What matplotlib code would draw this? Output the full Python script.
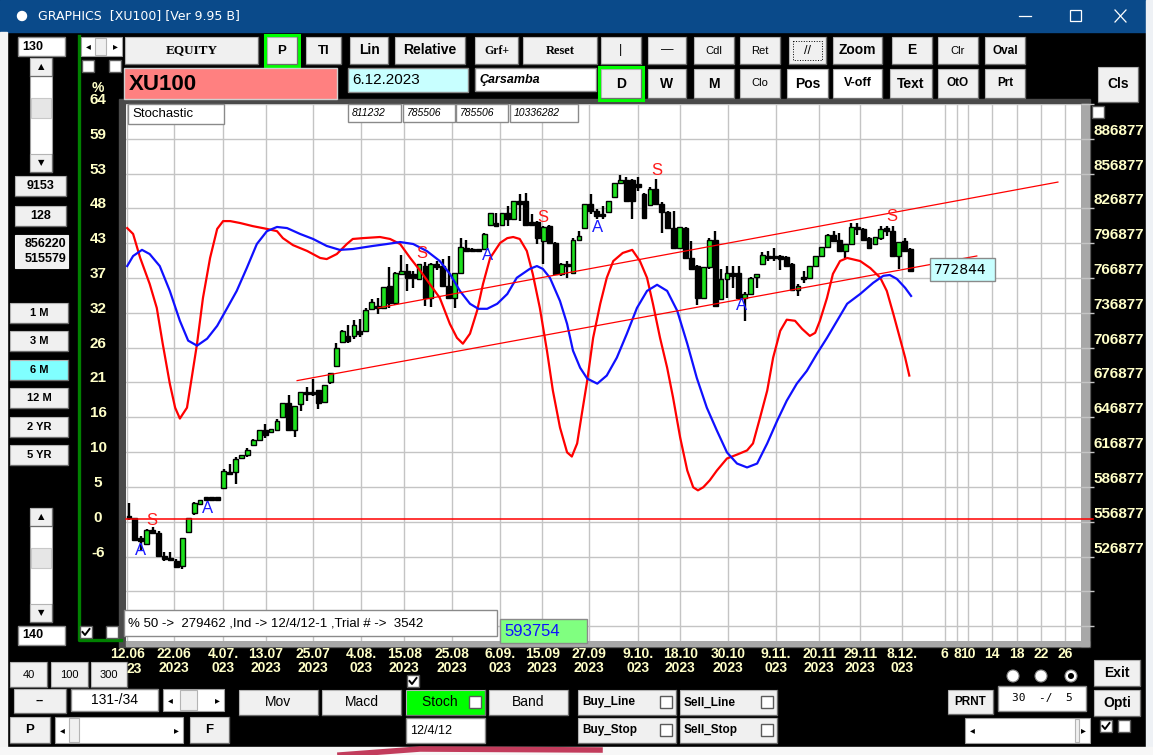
import numpy as np
import matplotlib
matplotlib.use("Agg")
import matplotlib.pyplot as plt
import matplotlib.transforms as mtransforms
from matplotlib.patches import Rectangle, Circle

plt.rcParams['font.family'] = ['Liberation Sans', 'DejaVu Sans']
NARROW = ['Liberation Sans Narrow', 'Liberation Sans', 'DejaVu Sans']
SERIF = ['Liberation Serif', 'DejaVu Serif']

# ---- daily bars, XU100 x100, values in thousands ----
opens = [561, 560, 543, 538, 550, 547, 527, 526, 523, 519,
         548, 564, 572, 577, 577, 577, 586, 600, 600, 612,
         614, 623, 627, 636, 634, 636, 647, 659, 636, 658,
         669, 669, 670, 660, 677, 691, 712, 717, 717, 721,
         721, 740, 742, 741, 760, 745, 770, 773, 770, 766,
         777, 750, 779, 777, 760, 750, 771, 793, 792, 791,
         792, 813, 814, 813, 823, 818, 833, 833, 815, 815,
         799, 812, 797, 770, 779, 771, 800, 810, 831, 825,
         822, 824, 837, 849, 851, 851, 848, 839, 830, 844,
         831, 824, 810, 793, 810, 784, 777, 750, 776, 800,
         749, 766, 771, 771, 750, 753, 768, 779, 786, 786,
         786, 785, 779, 757, 767, 767, 777, 786, 794, 804,
         800, 790, 796, 811, 809, 801, 796, 801, 810, 807,
         786, 799, 792]
highs = [573, 560, 545, 551, 552, 549, 531, 531, 525, 543,
         560, 574, 576, 577, 577, 577, 602, 607, 613, 614,
         620, 628, 636, 641, 637, 645, 659, 666, 657, 669,
         673, 680, 670, 675, 685, 711, 722, 726, 731, 732,
         741, 749, 750, 759, 776, 772, 787, 779, 773, 779,
         781, 780, 782, 783, 786, 771, 801, 800, 793, 792,
         806, 823, 823, 823, 829, 833, 839, 840, 822, 816,
         812, 813, 798, 780, 782, 801, 807, 831, 839, 826,
         829, 833, 849, 856, 854, 852, 854, 840, 845, 852,
         832, 825, 825, 811, 811, 799, 778, 776, 801, 807,
         775, 777, 777, 777, 755, 768, 770, 789, 790, 793,
         787, 786, 780, 762, 773, 777, 786, 794, 805, 807,
         806, 796, 814, 814, 810, 802, 802, 812, 812, 812,
         798, 801, 793]
lows = [558, 540, 532, 537, 546, 527, 523, 523, 517, 516,
        547, 563, 571, 576, 576, 576, 585, 597, 589, 611,
        613, 622, 627, 629, 633, 636, 646, 636, 630, 652,
        661, 665, 654, 659, 676, 690, 711, 711, 714, 716,
        720, 739, 736, 740, 741, 744, 770, 756, 758, 765,
        743, 742, 774, 759, 749, 741, 770, 789, 789, 789,
        791, 812, 811, 812, 812, 817, 816, 813, 812, 796,
        779, 797, 770, 769, 767, 770, 800, 809, 822, 818,
        818, 823, 836, 849, 833, 818, 842, 819, 829, 830,
        806, 810, 793, 792, 784, 774, 744, 749, 775, 743,
        748, 750, 758, 750, 730, 752, 758, 778, 782, 782,
        774, 777, 757, 751, 763, 766, 776, 785, 794, 798,
        790, 784, 795, 804, 800, 792, 795, 800, 803, 786,
        775, 790, 773]
closes = [560, 541, 540, 550, 547, 527, 525, 524, 518, 543,
          560, 573, 576, 576, 576, 576, 601, 598, 611, 614,
          619, 627, 636, 632, 637, 644, 659, 636, 657, 669,
          667, 667, 659, 675, 685, 707, 721, 713, 726, 719,
          739, 746, 741, 759, 745, 771, 773, 767, 767, 779,
          750, 779, 776, 760, 750, 771, 794, 790, 790, 790,
          805, 823, 812, 823, 818, 833, 831, 813, 813, 801,
          811, 797, 770, 779, 777, 800, 803, 831, 825, 820,
          820, 833, 849, 851, 833, 833, 845, 819, 844, 831,
          824, 810, 793, 811, 784, 775, 750, 776, 800, 743,
          766, 771, 769, 750, 753, 767, 770, 787, 784, 784,
          783, 777, 757, 760, 766, 777, 786, 794, 804, 799,
          790, 796, 811, 809, 800, 793, 802, 809, 807, 786,
          798, 790, 773]

# ---- stochastic lines (0-100), x in bar index ----
red_x = [-0.3, 0.7, 1.9, 3.5, 4.7, 5.7, 6.9, 7.8, 8.6, 9.8, 10.6, 11.5, 12.5, 13.7, 14.9,
         15.9, 17.1, 18.8, 20.9, 23.3, 25.0, 26.0, 27.7, 30.1, 32.3, 33.4, 35.1, 36.8, 37.8,
         39.5, 42.4, 44.1, 45.8, 47.5, 49.2, 50.8, 52.5, 54.2, 55.4, 56.4, 57.6, 58.8, 59.8,
         61.0, 62.7, 63.9, 64.9, 66.0, 67.2, 68.2, 69.4, 70.6, 71.6, 72.8, 74.0, 74.8, 75.7,
         76.5, 77.4, 78.4, 79.6, 80.7, 81.8, 83.4, 85.0, 86.3, 87.5, 88.5, 89.7, 90.9, 91.9,
         93.1, 94.3, 95.3, 96.1, 97.0, 98.1, 99.3, 101.0, 102.7, 104.4, 105.4, 106.6, 107.8,
         108.8, 110.0, 111.1, 112.5, 113.7, 115.0, 115.9, 116.7, 117.9, 118.9, 120.1, 121.3,
         123.5, 125.2, 126.9, 128.0, 129.1, 130.2, 131.1, 131.8]
red_s = [95.7, 93.6, 85, 75.7, 67.1, 54.3, 40, 31.4, 27.5, 31.4, 42.1, 54.3, 70.7, 85, 95.4,
         98.2, 98.2, 97.5, 96.4, 95.4, 94.6, 92.1, 89.6, 87.5, 85, 84.6, 86.4, 90, 91.8,
         92.1, 92.5, 91.8, 90, 85, 80.4, 75.7, 70.7, 61.4, 56.4, 54.3, 57.9, 66.1, 75.7,
         85, 90.4, 92.1, 92.5, 91.8, 87.5, 79.3, 67.1, 51.8, 37.5, 24.3, 15.4, 13.9, 18.6,
         29.3, 41.1, 56.4, 68.6, 77.9, 83.9, 86.8, 87.9, 83.9, 77.9, 68.6, 56.4, 45.7, 35,
         20.7, 8.9, 2.9, 1.8, 2.9, 5.4, 8.9, 13.2, 14.6, 16.1, 18.6, 27.9, 37.5,
         49.3, 58.9, 62.9, 62.5, 59.6, 57.1, 58.2, 62.5, 70.7, 79.3, 83.9, 85,
         83.9, 81.4, 77.9, 73.2, 65, 56.4, 49.3, 42.9]
blue_x = [-0.3, 0.7, 2.2, 3.5, 5.2, 6.9, 8.6, 10.0, 11.5, 13.2, 14.9, 16.6, 18.2, 19.9, 21.6,
          23.3, 25.0, 26.7, 28.9, 31.1, 33.4, 35.6, 37.8, 41.2, 43.6, 45.8, 48.0, 50.3, 52.5,
          54.2, 55.9, 57.6, 59.0, 60.5, 62.2, 63.9, 65.5, 67.7, 68.9, 69.9, 71.1, 72.8, 74.0,
          75.0, 76.2, 77.4, 79.1, 80.7, 82.4, 84.1, 85.8, 87.5, 89.2, 90.9, 92.6, 94.3, 95.9,
          97.6, 99.3, 101.0, 102.7, 104.4, 106.1, 107.8, 109.5, 111.1, 112.8, 114.5, 116.2,
          117.9, 119.6, 121.3, 123.5, 125.7, 127.4, 128.5, 129.7, 131.1, 132.1]
blue_s = [82.1, 85.7, 87.9, 86.4, 82.1, 73.2, 62.5, 55.4, 53.6, 56.1, 60.7, 67.1, 73.2, 81.4, 90,
          94.6, 96.1, 95.7, 93.6, 91.8, 89.3, 87.9, 88.2, 89.3, 90, 90.7, 90, 87.5, 83.9,
          79.3, 73.2, 68.6, 66.8, 66.8, 68.6, 72.1, 77.9, 81.1, 82.1, 81.1, 77.9, 69.6, 61.4,
          51.8, 45.7, 41.8, 40, 42.9, 49.3, 57.9, 67.1, 73.2, 75.4, 73.2, 66.1, 54.3, 42.1,
          31.4, 23.2, 15.4, 11.4, 10, 11.4, 18.6, 26.8, 33.9, 40, 44.6, 50.7,
          56.4, 62.5, 68.6, 72.1, 76.1, 78.6, 78.9, 77.5, 74.3, 71.4]

# trend channel (bar index, price k) and base line
lower_x, lower_y = [28.4, 143.2], [678.5, 785.9]
upper_x, upper_y = [42.1, 156.9], [741.2, 849.6]
base_line = 559.4

# signals (bar index, price k)
sell_x = [3.9, 49.5, 69.9, 89.2, 128.9]
sell_y = [558.1, 787.8, 818.7, 859.9, 819.5]
buy_x = [2.0, 13.2, 60.6, 79.1, 103.5]
buy_y = [532.3, 568.4, 786.1, 810.1, 743.1]

# axes ticks
price_ticks = list(range(466877, 916878, 30000))
price_labels = list(range(526877, 886878, 30000))
pct_labels = ['64', '59', '53', '48', '43', '37', '32', '26', '21', '16', '10', '5', '0', '-6']
pct_prices = list(range(916877, 526876, -30000))
date_pos = [-0.3, 7.6, 15.9, 23.1, 31.1, 39.2, 46.5, 54.6, 62.7, 69.8, 77.7, 86.0, 93.1,
            101.2, 109.3, 116.6, 123.5, 130.6, 137.8, 139.9, 141.7, 145.8, 150.0, 154.1, 158.1]
date_labels = ['12.06', '22.06\n2023', '4.07.\n023', '13.07\n2023', '25.07\n2023',
               '4.08.\n023', '15.08\n2023', '25.08\n2023', '6.09.\n023', '15.09\n2023',
               '27.09\n2023', '9.10.\n023', '18.10\n2023', '30.10\n2023', '9.11.\n023',
               '20.11\n2023', '29.11\n2023', '8.12.\n023', '6', '8', '10', '14', '18', '22', '26']

STOCH_LO, STOCH_HI = 579600, 820300
YELLOW = '#ffffc8'

W, H = 1153, 755
fig = plt.figure(figsize=(W / 100, H / 100), dpi=100)
fig.patch.set_facecolor('black')

bg = fig.add_axes([0, 0, 1, 1])
bg.set_xlim(0, W); bg.set_ylim(H, 0); bg.axis('off'); bg.set_zorder(0)

CX0, CX1, CY0, CY1 = 126, 1081, 104, 641
ax = fig.add_axes([CX0 / W, 1 - CY1 / H, (CX1 - CX0) / W, (CY1 - CY0) / H])
ax.set_zorder(1)

ov = fig.add_axes([0, 0, 1, 1])
ov.set_xlim(0, W); ov.set_ylim(H, 0); ov.axis('off'); ov.set_zorder(2)
ov.set_autoscale_on(False)

# ---- background frame ----
bg.add_patch(Rectangle((0, 0), W, 32, color='#0a4a8a'))
bg.add_patch(Rectangle((0, 32), 7, 715, color='#f4f4f4'))
bg.add_patch(Rectangle((1146, 0), 7, H, color='#eef1f5'))
bg.add_patch(Rectangle((0, 747), W, 8, color='#f7f7f7'))
bg.plot([340, 420, 600], [755, 749, 750], color='#c23c5c', lw=4)
bg.add_patch(Rectangle((119, 99), 971, 548, color='#4a4a4a'))
bg.add_patch(Rectangle((1081, 104), 8, 542, color='#a8a8a8'))
bg.add_patch(Rectangle((126, 641), 963, 5, color='#a8a8a8'))
bg.plot([79, 79, 121], [36, 640, 640], color='#008000', lw=2.4)

# ---- chart ----
o = np.array(opens) * 1000.0
h = np.array(highs) * 1000.0
l = np.array(lows) * 1000.0
c = np.array(closes) * 1000.0
x = np.arange(len(o))
up = c >= o

ax.vlines(x, l, h, color='black', lw=1.7, zorder=3)
body_lo = np.minimum(o, c)
body_h = np.maximum(np.abs(c - o), 2000)
ax.bar(x, body_h, bottom=body_lo, width=0.82, color=np.where(up, '#1ee01e', 'black'),
       edgecolor='black', linewidth=1.0, zorder=4)

ax.plot(red_x, STOCH_LO + np.array(red_s) * (STOCH_HI - STOCH_LO) / 100,
        color='#ff0000', lw=1.6, zorder=5)
ax.plot(blue_x, STOCH_LO + np.array(blue_s) * (STOCH_HI - STOCH_LO) / 100,
        color='#1010ff', lw=1.6, zorder=5)
ax.plot(lower_x, np.array(lower_y) * 1000, color='#ff0000', lw=0.9, zorder=5)
ax.plot(upper_x, np.array(upper_y) * 1000, color='#ff0000', lw=0.9, zorder=5)
ax.axhline(base_line * 1000, xmin=0, xmax=1.013, color='#ff0000', lw=1.1, clip_on=False, zorder=5)

for sx, sy in zip(sell_x, sell_y):
    ax.text(sx, sy * 1000, 'S', color='#ff1a1a', fontsize=12, ha='center', va='center', zorder=6)
for bx, by in zip(buy_x, buy_y):
    ax.text(bx, by * 1000, 'A', color='#1a1aff', fontsize=12, ha='center', va='center', zorder=6)

ax.set_xlim(-0.5, 160.8)
ax.set_ylim(454100, 915700)
ax.set_facecolor('white')
for sp in ax.spines.values():
    sp.set_visible(False)
ax.set_yticks(price_ticks)
ax.set_xticks(date_pos)
ax.set_xticklabels(date_labels, color=YELLOW, fontsize=10, fontweight='bold',
                   family=NARROW, linespacing=1.0)
ax.tick_params(axis='x', length=0, pad=4)
ax.tick_params(axis='y', left=False, right=True, labelleft=False, labelright=False,
               length=9, color='#c4c4c4', width=1)
ax.grid(True, color='#c4c4c4', lw=1.0)
ax.set_axisbelow(True)

blend = mtransforms.blended_transform_factory(ax.transAxes, ax.transData)
t_right = mtransforms.offset_copy(blend, fig=fig, x=0, y=8, units='dots')
t_left = mtransforms.offset_copy(blend, fig=fig, x=0, y=4, units='dots')
for p in price_labels:
    ax.text(1.0126, p, str(p), transform=t_right, color=YELLOW, fontsize=11,
            fontweight='bold', family=NARROW, ha='left', va='center', clip_on=False)
for lab, p in zip(pct_labels, pct_prices):
    ax.text(-0.0293, p, lab, transform=t_left, color=YELLOW, fontsize=11,
            fontweight='bold', family=NARROW, ha='center', va='center', clip_on=False)
ov.text(98, 88, '%', color=YELLOW, fontsize=10, fontweight='bold', family=NARROW,
        ha='center', va='center')
# visible tail of the first date's year, the rest sits behind the "300" button
ov.text(134, 669, '23', color=YELLOW, fontsize=10, fontweight='bold', family=NARROW,
        ha='center', va='center')


# ---- widgets ----
def rect(x0, y0, x1, y1, fc, ec='#7a7a7a', lw=0.8, **kw):
    ov.add_patch(Rectangle((x0, y0), x1 - x0, y1 - y0, facecolor=fc, edgecolor=ec, lw=lw, **kw))


def btn(x0, y0, x1, y1, label, fc='#f0f0f0', size=9, weight='bold', family=None,
        tc='black', green=False, ha='center'):
    rect(x0, y0, x1, y1, fc, ec='#b4b4b4')
    ov.plot([x0, x1, x1], [y1, y1, y0], color='#6e6e6e', lw=0.9)
    if green:
        ov.add_patch(Rectangle((x0 - 2, y0 - 2), x1 - x0 + 4, y1 - y0 + 4, fill=False,
                               edgecolor='#00ff00', lw=2.2))
    kw = {'family': family} if family else {}
    tx = (x0 + x1) / 2 if ha == 'center' else x0 + 4
    ov.text(tx, (y0 + y1) / 2, label, ha=ha, va='center', fontsize=size,
            fontweight=weight, color=tc, **kw)


def field(x0, y0, x1, y1, label, fc='white', size=9, weight='normal', tc='black',
          style='normal', ha='left', family=None):
    rect(x0, y0, x1, y1, fc, ec='#8a8a8a', lw=1)
    kw = {'family': family} if family else {}
    tx = x0 + 4 if ha == 'left' else (x0 + x1) / 2
    ov.text(tx, (y0 + y1) / 2, label, ha=ha, va='center', fontsize=size,
            fontweight=weight, color=tc, fontstyle=style, **kw)


def check(x0, y0, checked=False, s=12):
    rect(x0, y0, x0 + s, y0 + s, 'white', ec='#5a5a5a', lw=1)
    if checked:
        ov.plot([x0 + 2.5, x0 + 5, x0 + 9.5], [y0 + 6, y0 + 9, y0 + 3], color='black', lw=1.4)


def vscroll(x0, y0, x1, y1, t0, t1):
    rect(x0, y0, x1, y1, 'white', ec='#a0a0a0')
    btn(x0, y0, x1, y0 + 18, '▲', size=6, family='DejaVu Sans')
    btn(x0, y1 - 18, x1, y1, '▼', size=6, family='DejaVu Sans')
    rect(x0 + 1, t0, x1 - 1, t1, '#e6e6e6', ec='#c8c8c8')


def hscroll(x0, y0, x1, y1, t0, t1):
    rect(x0, y0, x1, y1, 'white', ec='#a0a0a0')
    ov.text(x0 + 7, (y0 + y1) / 2, '◂', ha='center', va='center', fontsize=7, family='DejaVu Sans')
    ov.text(x1 - 7, (y0 + y1) / 2, '▸', ha='center', va='center', fontsize=7, family='DejaVu Sans')
    rect(t0, y0 + 1, t1, y1 - 1, '#f0f0f0', ec='#b4b4b4')


# title bar
ov.add_patch(Circle((22, 16), 4.5, color='white'))
ov.text(38, 16, 'GRAPHICS  [XU100] [Ver 9.95 B]', color='white', fontsize=9, va='center',
        family='DejaVu Sans')
ov.plot([1019, 1031], [16, 16], color='white', lw=0.9)
rect(1070, 10, 1081, 21, 'none', ec='white', lw=0.9)
ov.plot([1115, 1126], [10, 22], color='white', lw=0.9)
ov.plot([1115, 1126], [22, 10], color='white', lw=0.9)

# left panel
field(18, 37, 65, 56, '130', size=9, weight='bold')
vscroll(30, 58, 52, 172, 98, 118)
btn(15, 176, 66, 196, '9153', size=9)
btn(15, 206, 66, 226, '128', size=9)
rect(15, 235, 68, 268, '#f0f0f0', ec='#f0f0f0')
ov.text(66, 244, '856220', ha='right', va='center', fontsize=9, fontweight='bold')
ov.text(66, 259, '515579', ha='right', va='center', fontsize=9, fontweight='bold')
for i, lab in enumerate(['1 M', '3 M', '6 M', '12 M', '2 YR', '5 YR']):
    y0 = 303 + i * 28.4
    btn(10, y0, 68, y0 + 20, lab, fc='#80ffff' if lab == '6 M' else '#f0f0f0', size=8)
vscroll(30, 508, 52, 622, 548, 568)
field(18, 626, 65, 645, '140', size=9, weight='bold')
hscroll(81, 37, 122, 56, 95, 106)
check(82, 60)
check(109, 60)
check(80, 626, checked=True)
check(106, 626)

# top buttons
btn(125, 37, 258, 64, 'EQUITY', family=SERIF, size=9.5)
btn(267, 37, 297, 64, 'P', green=True, size=9.5)
btn(306, 37, 341, 64, 'Tl', size=9.5)
btn(350, 37, 388, 64, 'Lin', size=10)
btn(395, 37, 465, 64, 'Relative', size=10)
btn(475, 37, 518, 64, 'Grf+', family=SERIF, size=8.5)
btn(523, 37, 597, 64, 'Reset', family=SERIF, size=9)
btn(601, 37, 641, 64, '|', size=9, weight='normal')
btn(648, 37, 686, 64, '—', size=9, weight='normal')
btn(694, 37, 734, 64, 'Cdl', size=8, weight='normal')
btn(740, 37, 780, 64, 'Ret', size=8, weight='normal')
btn(789, 37, 826, 64, '//', size=9, weight='normal')
rect(793, 41, 822, 60, 'none', ec='black', lw=0.7, linestyle=':')
btn(833, 37, 882, 64, 'Zoom', size=10)
btn(892, 37, 932, 64, 'E', size=10)
btn(938, 37, 978, 64, 'Clr', size=8, weight='normal')
btn(985, 37, 1025, 64, 'Oval', size=8.5)

# second row
rect(124, 68, 337, 99, '#ff8080', ec='#d0d0d0', lw=1)
ov.text(129, 84, 'XU100', fontsize=16, fontweight='bold', va='center', ha='left')
field(348, 68, 468, 92, '6.12.2023', fc='#c8ffff', size=11)
field(475, 68, 596, 91, 'Çarsamba', size=9, style='italic', weight='bold')
btn(601, 69, 641, 98, 'D', green=True, size=10)
btn(648, 69, 686, 98, 'W', size=10)
btn(694, 69, 734, 98, 'M', size=10)
btn(740, 69, 780, 98, 'Clo', size=8, weight='normal')
btn(787, 69, 828, 98, 'Pos', fc='white', size=10)
btn(833, 69, 882, 98, 'V-off', fc='white', size=9)
btn(890, 69, 932, 98, 'Text', size=10)
btn(938, 69, 978, 98, 'OtO', size=8.5)
btn(985, 69, 1025, 98, 'Prt', size=8.5)
btn(1098, 67, 1138, 102, 'Cls', size=10)
check(1092, 106)

# boxes inside the chart
field(128, 104, 224, 124, 'Stochastic', size=9.5)
for (bx0, bx1), lab in zip([(348, 401), (403, 455), (456, 508), (510, 578)],
                           ['811232', '785506', '785506', '10336282']):
    field(bx0, 104, bx1, 122, lab, size=7.5, style='italic')
field(930, 258, 995, 281, '772844', fc='#c8ffff', size=10, family='DejaVu Sans')
field(124, 610, 497, 636, '% 50 ->  279462 ,Ind -> 12/4/12-1 ,Trial # ->  3542', size=9.5)
field(500, 619, 587, 643, '593754', fc='#80ff80', size=12, tc='#1010ff')

# bottom controls
btn(10, 662, 47, 687, '40', size=8, weight='normal')
btn(51, 662, 88, 687, '100', size=8, weight='normal')
btn(91, 662, 127, 687, '300', size=8, weight='normal')
btn(14, 689, 66, 713, '--', size=9)
field(71, 689, 158, 711, '131-/34', size=10, ha='center')
hscroll(163, 689, 224, 711, 180, 197)
btn(10, 717, 50, 743, 'P', size=9.5)
hscroll(55, 717, 183, 743, 69, 79)
btn(190, 717, 229, 743, 'F', size=9.5)
btn(239, 690, 318, 715, 'Mov', size=10, weight='normal')
btn(322, 690, 401, 715, 'Macd', size=10, weight='normal')
btn(406, 690, 485, 715, 'Stoch   ', fc='#00ff00', size=10, weight='normal')
check(469, 696)
check(407, 675, checked=True)
btn(489, 690, 568, 715, 'Band', size=10, weight='normal')
field(406, 718, 485, 743, '12/4/12', size=9)
for (bx0, bx1), lab, by in [((578, 676), 'Buy_Line', 690), ((680, 777), 'Sell_Line', 690),
                            ((578, 676), 'Buy_Stop', 718), ((680, 777), 'Sell_Stop', 718)]:
    btn(bx0, by, bx1, by + 25, lab, size=8.5, ha='left')
    check(bx1 - 16, by + 6)
for rx, sel in [(1013, False), (1041, False), (1071, True)]:
    ov.add_patch(Circle((rx, 676), 6, facecolor='white', edgecolor='#8a8a8a', lw=0.8))
    if sel:
        ov.add_patch(Circle((rx, 676), 2.3, color='black'))
btn(1094, 660, 1140, 686, 'Exit', size=10)
btn(1094, 690, 1140, 716, 'Opti', size=10)
btn(948, 690, 993, 714, 'PRNT', size=8.5)
field(998, 686, 1086, 711, '30  -/  5', size=8, ha='center', family='DejaVu Sans Mono')
hscroll(965, 718, 1090, 743, 1075, 1079)
check(1100, 720, checked=True)
check(1118, 720)

fig.savefig('out.png', dpi=100, facecolor=fig.get_facecolor())
